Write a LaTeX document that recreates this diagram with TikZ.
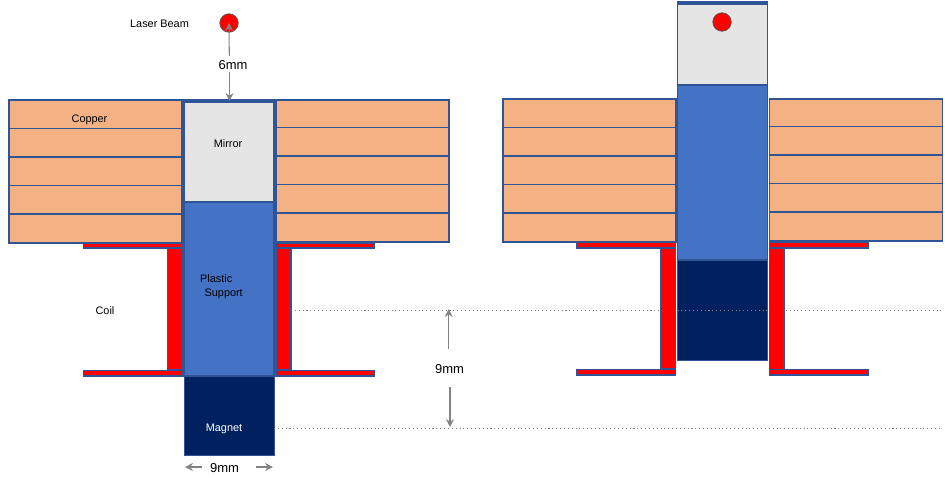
\documentclass[tikz,border=0pt]{standalone}
\usepackage{fontspec}
\setmainfont{Liberation Sans}
\usetikzlibrary{arrows.meta}
\definecolor{copperfill}{HTML}{F4B183}
\definecolor{edgeblue}{HTML}{2F5597}
\definecolor{plasticblue}{HTML}{4472C4}
\definecolor{magnetblue}{HTML}{002060}
\definecolor{mirrorgray}{HTML}{E5E5E5}
\definecolor{dimgray}{HTML}{595959}
\tikzset{
  copper/.style={draw=edgeblue,fill=copperfill,line width=0.7pt},
  coil/.style={draw=edgeblue,fill=red,line width=0.7pt},
  mirror/.style={draw=edgeblue,fill=mirrorgray,line width=0.65pt},
  plastic/.style={draw=edgeblue,fill=plasticblue,line width=0.65pt},
  magnet/.style={draw=edgeblue,fill=magnetblue,line width=0.5pt},
  beam/.style={circle,draw=dimgray,fill=red,line width=0.4pt,inner sep=0pt,minimum size=0.37cm},
  dimline/.style={-{Stealth[length=4.5pt,width=4.5pt]},dimgray!75,line width=0.6pt},
  guide/.style={gray,line width=0.5pt,dash pattern=on 0.6pt off 1.6pt},
  small/.style={font=\fontsize{6.2}{7.5}\selectfont,inner sep=0pt},
  dimtext/.style={font=\fontsize{7.4}{9}\selectfont,inner sep=0pt}
}
\begin{document}
\begin{tikzpicture}[>=stealth,x=0.02cm,y=-0.02cm]
	\useasboundingbox (0,0) rectangle (945,477);
	% left: copper stacks
	\foreach \top/\bot in {100/128.5,128.5/157,157/185.5,185.5/214,214/243}
		\draw[copper] (9,\top) rectangle (182,\bot);
	\foreach \top/\bot in {100/127.5,127.5/156,156/184.5,184.5/213,213/242}
		\draw[copper] (276,\top) rectangle (449,\bot);
	% left: coil
	\draw[coil] (83.5,243) rectangle (182,248);
	\draw[coil] (276,243) rectangle (374.5,248);
	\draw[coil] (167.5,248) rectangle (182,370);
	\draw[coil] (276,248) rectangle (291,370);
	\draw[coil] (83.5,370.5) rectangle (182,376);
	\draw[coil] (276,370.5) rectangle (374.5,376);
	% left: moving part
	\draw[plastic] (184,100) rectangle (274,376);
	\draw[mirror] (184.5,102) rectangle (274,202);
	\draw[magnet] (184,376) rectangle (274,455);
	% right: copper stacks
	\foreach \top/\bot in {99/127.5,127.5/156,156/184.5,184.5/213,213/242}
		\draw[copper] (503,\top) rectangle (676,\bot);
	\foreach \top/\bot in {99/126.5,126.5/155,155/183.5,183.5/212,212/241}
		\draw[copper] (769.5,\top) rectangle (942.5,\bot);
	% guide lines
	\coordinate (upperA) at (291,310);
	\coordinate (upperB) at (943,310);
	\coordinate (lowerA) at (274,428);
	\coordinate (lowerB) at (941,428);
	% right: moving part
	\draw[plastic] (677.5,2) rectangle (767.5,260);
	\draw[mirror] (677.5,4) rectangle (767.5,85);
	\draw[magnet] (677.5,260) rectangle (767.5,360);
	\draw[guide] (upperA) -- (upperB);
	\draw[guide] (lowerA) -- (lowerB);
	% right: coil
	\draw[coil] (577,242) rectangle (675.5,248);
	\draw[coil] (769.5,242) rectangle (868,248);
	\draw[coil] (661,248) rectangle (675.5,369);
	\draw[coil] (769.5,248) rectangle (784,370);
	\draw[coil] (577,369.5) rectangle (675.5,375);
	\draw[coil] (769.5,369.5) rectangle (868,375);
	% laser spots
	\node[beam] (beamleft) at (229,23) {};
	\node[beam] (beamright) at (722,22) {};
	% labels
	\node[small] (laserlabel) at (159.5,23.5) {Laser Beam};
	\node[small] (copperlabel) at (89.5,120) {Copper};
	\node[small] (mirrorlabel) at (228,144) {Mirror};
	\node[small,align=left] (plasticlabel) at (221.5,286.5) {Plastic\\[0.6pt]\hspace*{2.5pt}Support};
	\node[small] (coillabel) at (105,311) {Coil};
	\node[small,text=white] (magnetlabel) at (224,429) {Magnet};
	\node[dimtext] (sixlabel) at (233,65) {6mm};
	\node[dimtext] (ninelabel) at (449.5,369) {9mm};
	\node[dimtext] (widthlabel) at (224.5,468) {9mm};
	% dimension arrows
	\coordinate (mirrortop) at (229.5,101);
	\coordinate (sixup) at (229.3,56);
	\coordinate (sixdown) at (229.5,72);
	\coordinate (nineupA) at (448.7,349);
	\coordinate (nineupB) at (448.7,309);
	\coordinate (ninedownA) at (450,387);
	\coordinate (ninedownB) at (450,427);
	\coordinate (widthleftA) at (202,467);
	\coordinate (widthleftB) at (185,467);
	\coordinate (widthrightA) at (256,467);
	\coordinate (widthrightB) at (273,467);
	\draw[dimline] (sixup) -- (beamleft.center);
	\draw[dimline] (sixdown) -- (mirrortop);
	\draw[dimline] (nineupA) -- (nineupB);
	\draw[dimline] (ninedownA) -- (ninedownB);
	\draw[dimline] (widthleftA) -- (widthleftB);
	\draw[dimline] (widthrightA) -- (widthrightB);
\end{tikzpicture}
\end{document}
